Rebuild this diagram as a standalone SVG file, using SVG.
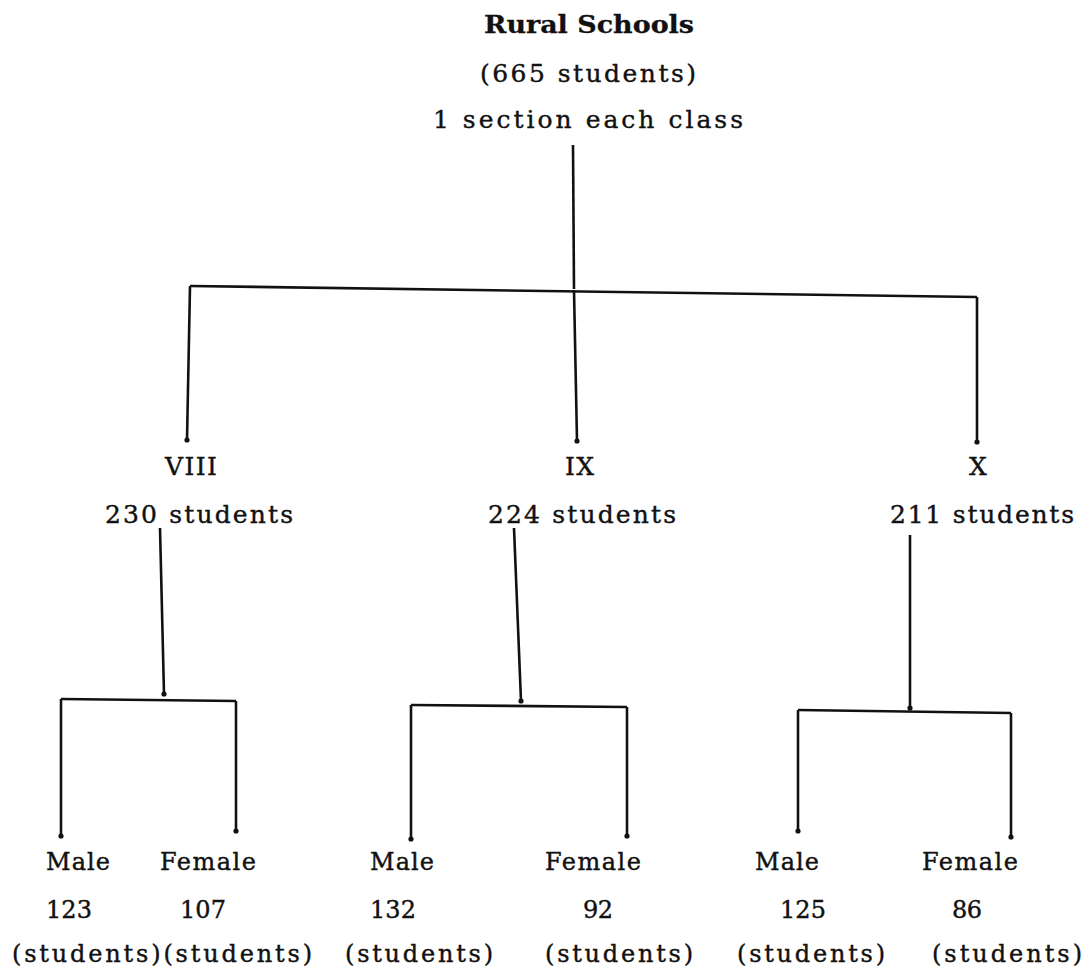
<svg xmlns="http://www.w3.org/2000/svg" width="1089" height="974" viewBox="0 0 1089 974">
<defs>
<style>
.t{font-family:"DejaVu Serif","Liberation Serif",serif;font-size:25px;fill:#111;stroke:#111;stroke-width:0.4}
.b{font-size:24px}
.title{font-weight:bold;font-size:25px;stroke-width:0.3}
.ln{fill:none;stroke:#111;stroke-width:2.6;stroke-linejoin:miter;stroke-linecap:butt}
.ar{marker-end:url(#dot)}
</style>
<marker id="dot" viewBox="0 0 6 6" refX="3" refY="3" markerWidth="2" markerHeight="2" markerUnits="strokeWidth">
<circle cx="3" cy="3" r="3" fill="#111"/>
</marker>
</defs>
<rect width="1089" height="974" fill="#fff"/>

<g id="connectors">
<path class="ln" d="M573,145 L574,289"/>
<path class="ln" d="M190,286 L977,297"/>
<path class="ln ar" d="M190,286 L187,440"/>
<path class="ln ar" d="M574,290 L577,441"/>
<path class="ln ar" d="M977,297 L977,442"/>
<path class="ln ar" d="M160,528 L164,694"/>
<path class="ln ar" d="M61,699 L61,836"/>
<path class="ln" d="M61,699 L236,701"/>
<path class="ln ar" d="M236,701 L236,831"/>
<path class="ln ar" d="M514,528 L521,701"/>
<path class="ln" d="M411,705 L627,707"/>
<path class="ln ar" d="M411,705 L411,839"/>
<path class="ln ar" d="M627,707 L627,836"/>
<path class="ln ar" d="M910,535 L910,708"/>
<path class="ln" d="M798,710 L1011,713"/>
<path class="ln ar" d="M798,710 L798,831"/>
<path class="ln ar" d="M1011,713 L1011,837"/>
</g>

<g id="root">
<text class="t title" x="484" y="33" textLength="210" lengthAdjust="spacingAndGlyphs">Rural Schools</text>
<text class="t" x="480" y="82" textLength="216" lengthAdjust="spacing">(665 students)</text>
<text class="t" x="433" y="128" textLength="310" lengthAdjust="spacing">1 section each class</text>
</g>

<g id="class-viii">
<text class="t" x="165" y="475" textLength="52" lengthAdjust="spacing">VIII</text>
<text class="t" x="105" y="523" textLength="188" lengthAdjust="spacing">230 students</text>
</g>
<g id="class-ix">
<text class="t" x="565" y="475" textLength="29" lengthAdjust="spacing">IX</text>
<text class="t" x="488" y="523" textLength="188" lengthAdjust="spacing">224 students</text>
</g>
<g id="class-x">
<text class="t" x="978" y="475" text-anchor="middle">X</text>
<text class="t" x="890" y="523" textLength="184" lengthAdjust="spacing">211 students</text>
</g>

<g id="viii-male">
<text class="t b" x="46" y="870" textLength="64" lengthAdjust="spacing">Male</text>
<text class="t b" x="46" y="918" textLength="46" lengthAdjust="spacing">123</text>
</g>
<g id="viii-female">
<text class="t b" x="160" y="870" textLength="96" lengthAdjust="spacing">Female</text>
<text class="t b" x="180" y="918" textLength="46" lengthAdjust="spacing">107</text>
</g>
<g id="viii-students">
<text class="t b" x="12" y="962" textLength="300" lengthAdjust="spacing">(students)(students)</text>
</g>

<g id="ix-male">
<text class="t b" x="370" y="870" textLength="64" lengthAdjust="spacing">Male</text>
<text class="t b" x="370" y="918" textLength="46" lengthAdjust="spacing">132</text>
<text class="t b" x="345" y="962" textLength="148" lengthAdjust="spacing">(students)</text>
</g>
<g id="ix-female">
<text class="t b" x="545" y="870" textLength="96" lengthAdjust="spacing">Female</text>
<text class="t b" x="583" y="918" textLength="30" lengthAdjust="spacing">92</text>
<text class="t b" x="545" y="962" textLength="148" lengthAdjust="spacing">(students)</text>
</g>

<g id="x-male">
<text class="t b" x="755" y="870" textLength="64" lengthAdjust="spacing">Male</text>
<text class="t b" x="780" y="918" textLength="46" lengthAdjust="spacing">125</text>
<text class="t b" x="737" y="962" textLength="148" lengthAdjust="spacing">(students)</text>
</g>
<g id="x-female">
<text class="t b" x="922" y="870" textLength="96" lengthAdjust="spacing">Female</text>
<text class="t b" x="952" y="918" textLength="30" lengthAdjust="spacing">86</text>
<text class="t b" x="932" y="962" textLength="150" lengthAdjust="spacing">(students)</text>
</g>
</svg>
